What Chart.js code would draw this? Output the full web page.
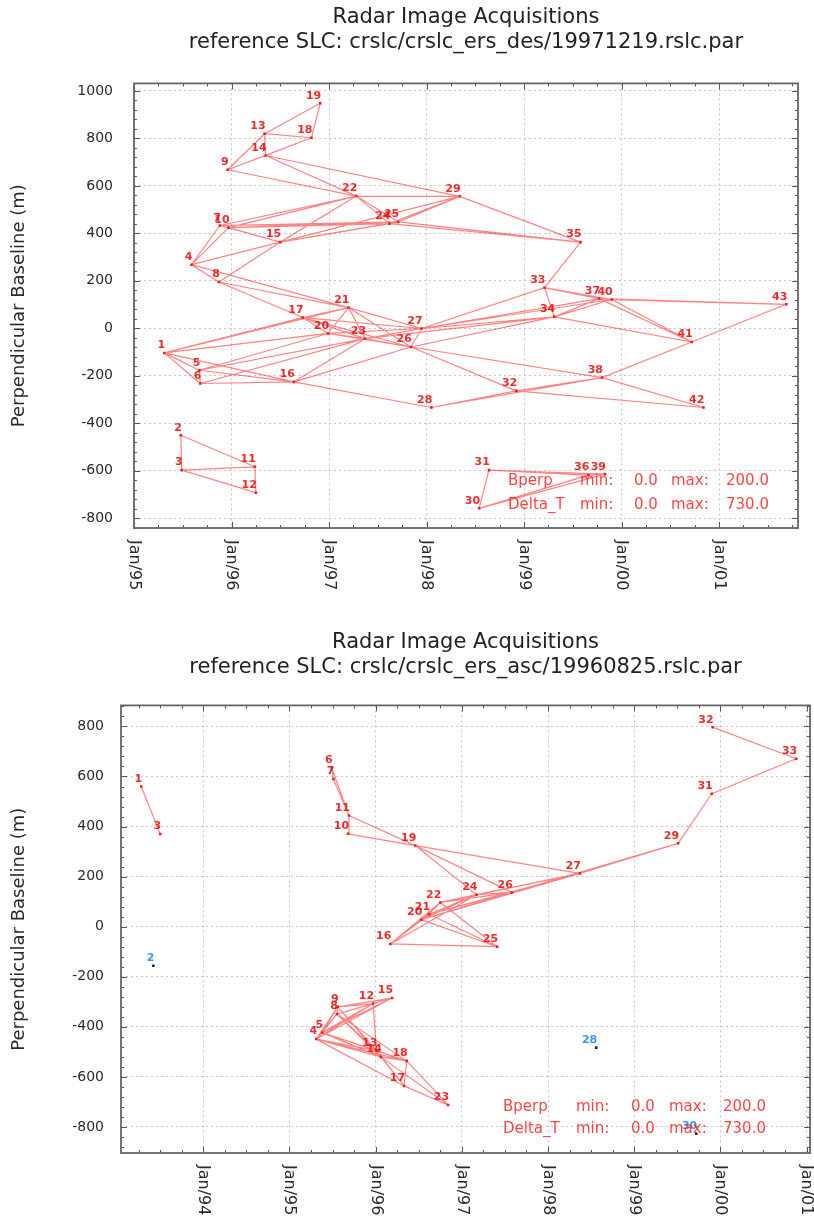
<!DOCTYPE html>
<html>
<head>
<meta charset="utf-8">
<script src="https://cdn.jsdelivr.net/npm/chart.js@4.4.1/dist/chart.umd.min.js"></script>
<style>
  html, body { margin: 0; padding: 0; background: #fff; }
  .box { position: absolute; left: 0; width: 814px; height: 611px; }
  #desBox { top: 0; }
  #ascBox { top: 611px; }
</style>
</head>
<body>
<div class="box" id="desBox"><canvas id="desChart" width="814" height="611"></canvas></div>
<div class="box" id="ascBox"><canvas id="ascChart" width="814" height="611"></canvas></div>
<script>
// pair selection limits, as printed in the plots
const BPERP_MAX = 200;  // m
const DT_MAX = 730;     // days

// descending track, reference 19971219
const desLabels = ['1','2','3','4','5','6','7','8','9','10','11','12','13','14','15','16','17','18','19','20','21','22',
  '23','24','25','26','27','28','29','30','31','32','33','34','35','36','37','38','39','40','41','42','43'];
const desDates = [1995.31, 1995.48, 1995.49, 1995.59, 1995.67, 1995.68, 1995.88, 1995.87, 1995.96, 1995.97, 1996.24,
  1996.25, 1996.34, 1996.35, 1996.50, 1996.64, 1996.73, 1996.82, 1996.91, 1996.99, 1997.20, 1997.28, 1997.37,
  1997.62, 1997.71, 1997.84, 1997.95, 1998.05, 1998.34, 1998.54, 1998.64, 1998.92, 1999.21, 1999.31, 1999.58,
  1999.66, 1999.77, 1999.80, 1999.83, 1999.90, 2000.72, 2000.84, 2001.69];
const desBperp = [-104, -451, -598, 268, -177, -233, 433, 195, 668, 424, -584, -693, 820, 728, 363, -226, 45, 803,
  948, -22, 87, 557, -44, 441, 448, -79, -1, -334, 556, -759, -598, -264, 171, 48, 363, -619, 125, -208, -615,
  121, -58, -334, 101];
const desYearTicks = [1995, 1996, 1997, 1998, 1999, 2000, 2001];
const desBperpTicks = [-800, -600, -400, -200, 0, 200, 400, 600, 800, 1000];

// ascending track, reference 19960825
const ascLabels = ['1','2','3','4','5','6','7','8','9','10','11','12','13','14','15','16','17','18','19','20','21',
  '22','23','24','25','26','27','28','29','30','31','32','33'];
const ascDates = [1993.28, 1993.42, 1993.50, 1995.31, 1995.38, 1995.49, 1995.51, 1995.55, 1995.56, 1995.68, 1995.69,
  1995.97, 1996.01, 1996.06, 1996.19, 1996.17, 1996.33, 1996.36, 1996.46, 1996.53, 1996.62, 1996.75, 1996.84,
  1997.17, 1997.41, 1997.58, 1998.37, 1998.56, 1999.51, 1999.72, 1999.90, 1999.91, 2000.88];
const ascBperp = [560, -156, 370, -449, -423, 635, 590, -349, -320, 371, 444, -307, -495, -520, -285, -69, -636,
  -536, 324, 28, 50, 97, -712, 128, -80, 137, 213, -483, 333, -827, 531, 797, 671];
const ascYearTicks = [1994, 1995, 1996, 1997, 1998, 1999, 2000, 2001];
const ascBperpTicks = [-800, -600, -400, -200, 0, 200, 400, 600, 800];

const FONT = 'DejaVu Sans';

function buildEdges(dates, bperp) {
  const pts = [];
  const used = dates.map(() => false);
  for (let i = 0; i < dates.length; i++) {
    for (let j = i + 1; j < dates.length; j++) {
      const dB = Math.abs(bperp[i] - bperp[j]);
      const dT = Math.abs(dates[i] - dates[j]) * 365.25;
      if (dB <= BPERP_MAX && dT <= DT_MAX) {
        pts.push({x: dates[i], y: bperp[i]}, {x: dates[j], y: bperp[j]}, {x: null, y: null});
        used[i] = used[j] = true;
      }
    }
  }
  return {pts, used};
}

function yearLabel(v) {
  return 'Jan/' + String(v % 100).padStart(2, '0');
}

// tick marks inside the frame, frame, rotated date labels, pair limits text
const framePlugin = {
  id: 'frame',
  afterDraw(chart, args, opts) {
    const {ctx, chartArea: a} = chart;
    const xs = chart.scales.x, ys = chart.scales.y;
    ctx.save();
    ctx.strokeStyle = '#555';
    ctx.lineWidth = 1;
    ctx.beginPath();
    for (let v = Math.ceil(xs.min * 4) / 4; v <= xs.max; v += 0.25) {
      const px = Math.round(xs.getPixelForValue(v)) + 0.5;
      const len = Math.abs(v - Math.round(v)) < 1e-6 ? 6 : 3;
      ctx.moveTo(px, a.bottom); ctx.lineTo(px, a.bottom - len);
      ctx.moveTo(px, a.top); ctx.lineTo(px, a.top + len);
    }
    for (let v = Math.ceil(ys.min / 40) * 40; v <= ys.max; v += 40) {
      const py = Math.round(ys.getPixelForValue(v)) + 0.5;
      const len = v % 200 === 0 ? 6 : 3;
      ctx.moveTo(a.left, py); ctx.lineTo(a.left + len, py);
      ctx.moveTo(a.right, py); ctx.lineTo(a.right - len, py);
    }
    ctx.stroke();
    ctx.strokeStyle = '#666';
    ctx.lineWidth = 1.8;
    ctx.strokeRect(a.left, a.top, a.right - a.left, a.bottom - a.top);

    ctx.fillStyle = '#2a2a2a';
    ctx.font = '16px "' + FONT + '"';
    ctx.textAlign = 'left';
    ctx.textBaseline = 'middle';
    xs.ticks.forEach(t => {
      const px = xs.getPixelForValue(t.value);
      ctx.save();
      ctx.translate(px, a.bottom + 12);
      ctx.rotate(Math.PI / 2);
      ctx.fillText(yearLabel(t.value), 0, 0);
      ctx.restore();
    });

    ctx.fillStyle = 'rgba(255,20,20,0.8)';
    ctx.font = '15px "' + FONT + '"';
    const rows = [
      ['Bperp', 'min:', '0.0', 'max:', BPERP_MAX.toFixed(1)],
      ['Delta_T', 'min:', '0.0', 'max:', DT_MAX.toFixed(1)]
    ];
    rows.forEach((row, r) => {
      row.forEach((s, k) => ctx.fillText(s, opts.cols[k], opts.rows[r]));
    });
    ctx.restore();
  }
};

// point numbers next to each acquisition
const labelPlugin = {
  id: 'ptLabels',
  afterDatasetsDraw(chart, args, opts) {
    const meta = chart.getDatasetMeta(1);
    const ctx = chart.ctx;
    ctx.save();
    ctx.font = 'bold 11px "' + FONT + '"';
    ctx.textAlign = 'right';
    ctx.textBaseline = 'bottom';
    meta.data.forEach((el, i) => {
      ctx.fillStyle = opts.used[i] ? 'rgba(235,20,20,0.9)' : '#3f95ec';
      ctx.fillText(opts.labels[i], el.x + 1, el.y - 2);
    });
    ctx.restore();
  }
};

function makeChart(id, cfg) {
  const {pts, used} = buildEdges(cfg.dates, cfg.bperp);
  const points = cfg.dates.map((d, i) => ({x: d, y: cfg.bperp[i]}));
  const gridStyle = {color: '#c4c4c4', lineWidth: 1, drawTicks: false};
  return new Chart(document.getElementById(id), {
    type: 'scatter',
    data: {
      datasets: [
        {
          type: 'line',
          data: pts,
          borderColor: 'rgba(255,30,30,0.55)',
          borderWidth: 1.2,
          pointRadius: 0,
          tension: 0,
          spanGaps: false
        },
        {
          type: 'scatter',
          data: points,
          pointStyle: 'rect',
          pointRadius: 1.8,
          borderWidth: 0,
          backgroundColor: used.map(u => u ? '#f01818' : '#222')
        }
      ]
    },
    options: {
      responsive: false,
      animation: false,
      layout: {padding: {left: 0, right: cfg.padRight, top: 0, bottom: 0}},
      scales: {
        x: {
          type: 'linear',
          min: cfg.xMin,
          max: cfg.xMax,
          afterBuildTicks: s => { s.ticks = cfg.yearTicks.map(v => ({value: v})); },
          afterFit: s => { s.height = cfg.bottomH; },
          grid: gridStyle,
          border: {display: false, dash: [2, 3]},
          ticks: {display: false}
        },
        y: {
          type: 'linear',
          min: cfg.yMin,
          max: cfg.yMax,
          afterBuildTicks: s => { s.ticks = cfg.bperpTicks.map(v => ({value: v})); },
          afterFit: s => { s.width = cfg.leftW; },
          grid: gridStyle,
          border: {display: false, dash: [2, 3]},
          ticks: {
            padding: cfg.tickPad,
            color: '#2a2a2a',
            font: {family: FONT, size: 14},
            callback: v => String(v)
          },
          title: {
            display: true,
            text: 'Perpendicular Baseline (m)',
            color: '#2a2a2a',
            font: {family: FONT, size: 18},
            padding: {top: 9, bottom: 0}
          }
        }
      },
      plugins: {
        legend: {display: false},
        tooltip: {enabled: false},
        title: {
          display: true,
          text: 'Radar Image Acquisitions',
          fullSize: false,
          color: '#222',
          font: {family: FONT, size: 21, weight: 'normal'},
          padding: {top: cfg.titleTop, bottom: 0}
        },
        subtitle: {
          display: true,
          text: cfg.subtitle,
          fullSize: false,
          color: '#222',
          font: {family: FONT, size: 21, weight: 'normal'},
          padding: {top: 0, bottom: cfg.subBottom}
        },
        frame: {cols: cfg.statCols, rows: cfg.statRows},
        ptLabels: {labels: cfg.labels, used}
      }
    },
    plugins: [framePlugin, labelPlugin]
  });
}

makeChart('desChart', {
  labels: desLabels, dates: desDates, bperp: desBperp,
  yearTicks: desYearTicks, bperpTicks: desBperpTicks,
  xMin: 1995.0, xMax: 2001.81, yMin: -842, yMax: 1032,
  leftW: 134, padRight: 16, bottomH: 83, tickPad: 21,
  titleTop: 5, subBottom: 28,
  subtitle: 'reference SLC: crslc/crslc_ers_des/19971219.rslc.par',
  statCols: [508, 580, 634, 671, 726], statRows: [481, 505]
});

makeChart('ascChart', {
  labels: ascLabels, dates: ascDates, bperp: ascBperp,
  yearTicks: ascYearTicks, bperpTicks: ascBperpTicks,
  xMin: 1993.045, xMax: 2001.04, yMin: -904, yMax: 884,
  leftW: 121, padRight: 4, bottomH: 69, tickPad: 17,
  titleTop: 19, subBottom: 25,
  subtitle: 'reference SLC: crslc/crslc_ers_asc/19960825.rslc.par',
  statCols: [503, 576, 631, 669, 723], statRows: [496, 518]
});
</script>
</body>
</html>
